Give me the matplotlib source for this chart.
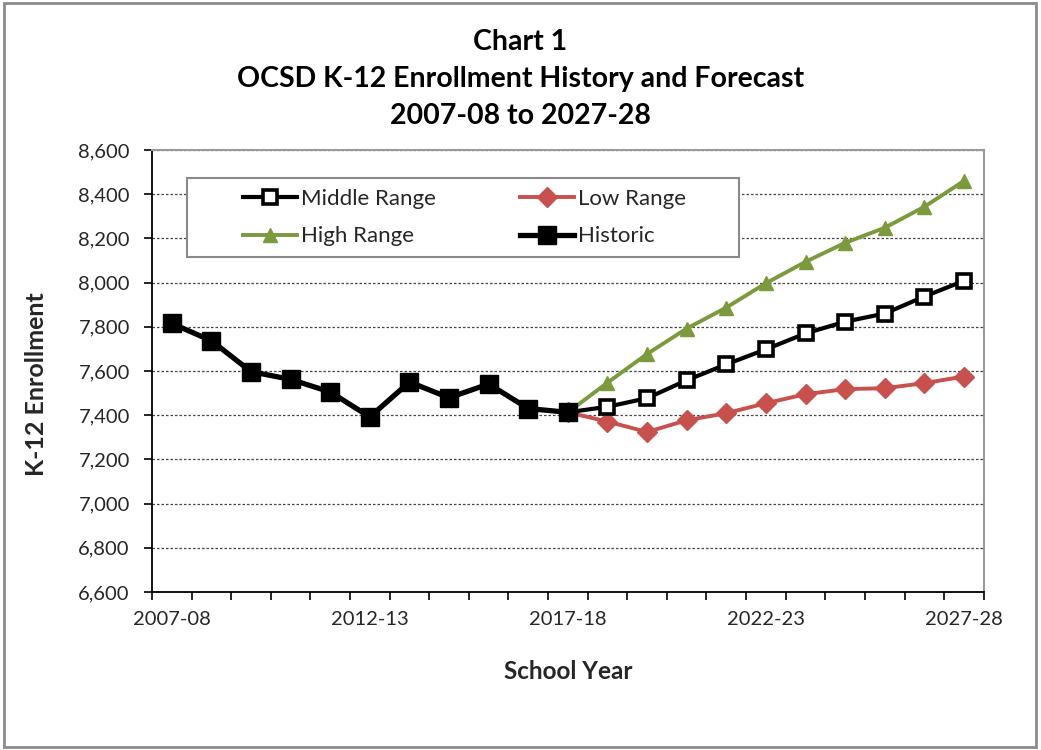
import matplotlib

matplotlib.use("Agg")
import matplotlib.pyplot as plt
from matplotlib.patches import Rectangle
from matplotlib.ticker import FuncFormatter

plt.rcParams["font.family"] = ["Lato", "DejaVu Sans"]

# school years on the x axis (one category each)
years = [f"{y}-{str(y + 1)[2:]}" for y in range(2007, 2028)]
tick_years = ["2007-08", "2012-13", "2017-18", "2022-23", "2027-28"]

# historic enrollment 2007-08 .. 2017-18
historic = [7815, 7737, 7597, 7562, 7505, 7392, 7550, 7479, 7541, 7430, 7413]
# forecasts 2017-18 .. 2027-28 (start from last historic year)
middle = [7413, 7438, 7477, 7558, 7630, 7698, 7770, 7823, 7860, 7937, 8008]
low = [7413, 7371, 7324, 7377, 7409, 7454, 7495, 7518, 7522, 7545, 7575]
high = [7413, 7547, 7677, 7792, 7887, 7997, 8094, 8180, 8248, 8343, 8460]

title_lines = ["Chart 1", "OCSD K-12 Enrollment History and Forecast", "2007-08 to 2027-28"]

RED = "#c8504d"
GREEN = "#7a9a3c"
TXT = "#262626"

x_hist = list(range(len(historic)))
x_fc = list(range(len(historic) - 1, len(years)))

fig = plt.figure(figsize=(10.41, 7.5), dpi=100)
ax = fig.add_axes([0.146, 0.2107, 0.799, 0.5893])

l_low, = ax.plot(x_fc, low, color=RED, lw=2.8, marker="D", ms=10, zorder=3, label="Low Range")
l_high, = ax.plot(x_fc, high, color=GREEN, lw=2.8, marker="^", ms=10, zorder=3, label="High Range")
l_mid, = ax.plot(x_fc, middle, color="black", lw=3.0, marker="s", ms=10, mfc="white",
                 mec="black", mew=2.6, zorder=4, label="Middle Range")
l_hist, = ax.plot(x_hist, historic, color="black", lw=3.8, marker="s", ms=12.5, zorder=5,
                  label="Historic")

ax.set_xlim(-0.5, len(years) - 0.5)
ax.set_ylim(6600, 8600)
ax.set_yticks(range(6600, 8601, 200))
ax.yaxis.set_major_formatter(FuncFormatter(lambda v, p: f"{int(v):,}"))
ax.grid(axis="y", color="#444444", lw=0.9, ls=(0, (2, 1.6)))
ax.set_axisbelow(True)

# labels every 5 years, tick marks between categories
ax.set_xticks([years.index(t) for t in tick_years])
ax.set_xticklabels(tick_years)
ax.set_xticks([i - 0.5 for i in range(len(years) + 1)], minor=True)
ax.tick_params(axis="x", which="major", length=0, pad=14, labelsize=14.5, labelcolor=TXT)
ax.tick_params(axis="x", which="minor", length=6, width=1.2, direction="out")
ax.tick_params(axis="y", length=6, width=1.2, pad=10, labelsize=14.5, labelcolor=TXT)

for s in ("left", "bottom"):
    ax.spines[s].set_color("black")
    ax.spines[s].set_linewidth(1.3)
for s in ("top", "right"):
    ax.spines[s].set_color("#9a9a9a")
    ax.spines[s].set_linewidth(1.5)

ax.set_ylabel("K-12 Enrollment", fontsize=18, fontweight="bold", color=TXT)
ax.yaxis.set_label_coords(-0.125, 0.47)
ax.set_xlabel("School Year", fontsize=17.5, fontweight="bold", color=TXT, va="top")
ax.xaxis.set_label_coords(0.5, -0.155)

# legend box drawn separately so the padding matches
ax.add_patch(Rectangle((0.042, 0.758), 0.664, 0.179, transform=ax.transAxes, fill=True,
                       facecolor="white", edgecolor="#8a8a8a", lw=1.5, zorder=6))
leg = ax.legend([l_mid, l_high, l_low, l_hist], ["Middle Range", "High Range", "Low Range", "Historic"],
                ncol=2, frameon=False, loc="center", bbox_to_anchor=(0.376, 0.8475),
                fontsize=16, handlelength=2.4, handletextpad=0.2, columnspacing=3.8,
                labelspacing=0.8, labelcolor=TXT)
leg.set_zorder(7)

for i, line in enumerate(title_lines):
    fig.text(0.5, 1 - (42 + i * 37) / 750, line, ha="center", va="center",
             fontsize=20.5, fontweight="bold", color="black")

fig.patches.append(Rectangle((4 / 1041, 3 / 750), 1032 / 1041, 744 / 750, transform=fig.transFigure,
                             fill=False, edgecolor="#8c8c8c", lw=2))

fig.savefig("out.png", dpi=100)
